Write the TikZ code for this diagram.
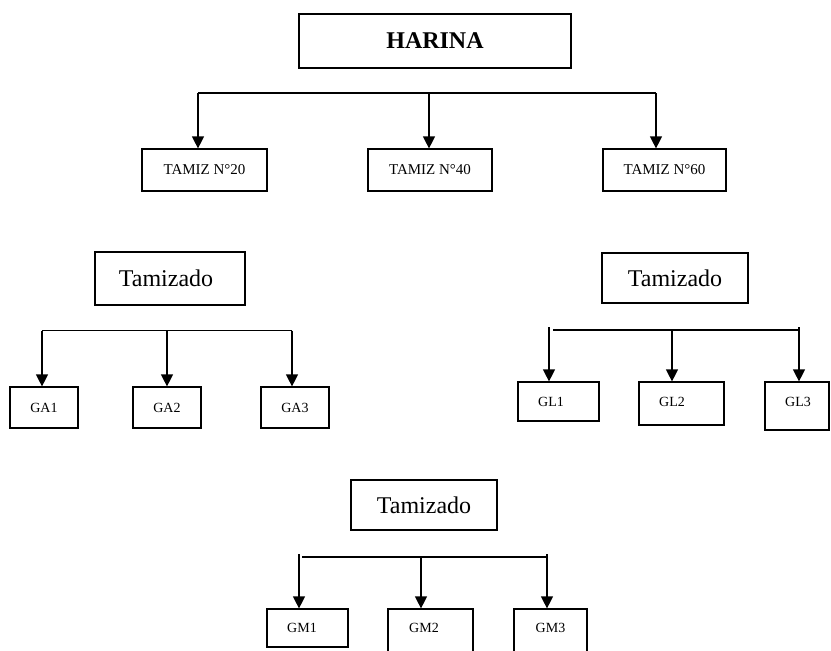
\documentclass[tikz,border=0pt]{standalone}
\usepackage{fontspec}
\setmainfont{Liberation Serif}
\usetikzlibrary{arrows.meta}
\begin{document}
\begin{tikzpicture}[x=1pt,y=-1pt,
  box/.style={draw, line width=1.2pt, inner sep=0pt},
  link/.style={line width=1.2pt},
  arr/.style={link, -{Triangle[width=12pt,length=12pt]}},
  titlefont/.style={font=\bfseries\fontsize{24}{28}\selectfont},
  bigfont/.style={font=\fontsize{24}{28}\selectfont},
  midfont/.style={font=\fontsize{15}{18}\selectfont},
  smallfont/.style={font=\fontsize{14}{17}\selectfont}]
\useasboundingbox (0,0) rectangle (831,651);
\clip (0,0) rectangle (831,651);

% ---------- top level ----------
\node[box, titlefont, minimum width=272pt, minimum height=54pt] (harina) at (435,41) {HARINA};

\node[box, midfont, minimum width=125pt, minimum height=42pt] (tz20) at (204.5,170) {TAMIZ N°20};
\node[box, midfont, minimum width=124pt, minimum height=42pt] (tz40) at (430,170) {TAMIZ N°40};
\node[box, midfont, minimum width=123pt, minimum height=42pt] (tz60) at (664.5,170) {TAMIZ N°60};

\coordinate (t1) at (198,93);
\coordinate (t2) at (429,93);
\coordinate (t3) at (656,93);
\draw[link] (t1) -- (t3);
\draw[arr] (t1) -- (t1 |- tz20.north);
\draw[arr] (t2) -- (t2 |- tz40.north);
\draw[arr] (t3) -- (t3 |- tz60.north);

% ---------- left sieving group ----------
\node[box, minimum width=150pt, minimum height=53pt,
      label={[bigfont, xshift=-4pt]center:Tamizado}] (tamL) at (170,278.5) {};

\node[box, smallfont, minimum width=68pt, minimum height=41pt] (ga1) at (44,407.5) {GA1};
\node[box, smallfont, minimum width=68pt, minimum height=41pt] (ga2) at (167,407.5) {GA2};
\node[box, smallfont, minimum width=68pt, minimum height=41pt] (ga3) at (295,407.5) {GA3};

\coordinate (a1) at (42,330.5);
\coordinate (a2) at (167,330.5);
\coordinate (a3) at (292,330.5);
\draw[link] (a1) -- (a3);
\draw[arr] (a1) -- (a1 |- ga1.north);
\draw[arr] (a2) -- (a2 |- ga2.north);
\draw[arr] (a3) -- (a3 |- ga3.north);

% ---------- right sieving group ----------
\node[box, bigfont, minimum width=146pt, minimum height=50pt] (tamR) at (675,278) {Tamizado};

\node[box, minimum width=81pt, minimum height=39pt,
      label={[smallfont, xshift=-7.5pt]center:GL1}] (gl1) at (558.5,401.5) {};
\node[box, minimum width=85pt, minimum height=43pt,
      label={[smallfont, xshift=-9.5pt, yshift=1.5pt]center:GL2}] (gl2) at (681.5,403.5) {};
\node[box, minimum width=64pt, minimum height=48pt,
      label={[smallfont, xshift=1pt, yshift=4pt]center:GL3}] (gl3) at (797,406) {};

\coordinate (l1) at (549,327);
\coordinate (l2) at (672,330);
\coordinate (l3) at (799,327);
\coordinate (l1s) at (553,330);
\draw[link] (l1s) -- (l3 |- l2);
\draw[arr] (l1) -- (l1 |- gl1.north);
\draw[arr] (l2) -- (l2 |- gl2.north);
\draw[arr] (l3) -- (l3 |- gl3.north);

% ---------- bottom sieving group ----------
\node[box, bigfont, minimum width=146pt, minimum height=50pt] (tamB) at (424,505) {Tamizado};

\node[box, minimum width=81pt, minimum height=38pt,
      label={[smallfont, xshift=-5.5pt]center:GM1}] (gm1) at (307.5,628) {};
\node[box, minimum width=85pt, minimum height=61pt,
      label={[smallfont, xshift=-6.5pt, yshift=11.5pt]center:GM2}] (gm2) at (430.5,639.5) {};
\node[box, minimum width=73pt, minimum height=61pt,
      label={[smallfont, yshift=11.5pt]center:GM3}] (gm3) at (550.5,639.5) {};

\coordinate (m1) at (299,554);
\coordinate (m2) at (421,557);
\coordinate (m3) at (547,554);
\coordinate (m1s) at (302,557);
\draw[link] (m1s) -- (m3 |- m2);
\draw[arr] (m1) -- (m1 |- gm1.north);
\draw[arr] (m2) -- (m2 |- gm2.north);
\draw[arr] (m3) -- (m3 |- gm3.north);
\end{tikzpicture}
\end{document}
